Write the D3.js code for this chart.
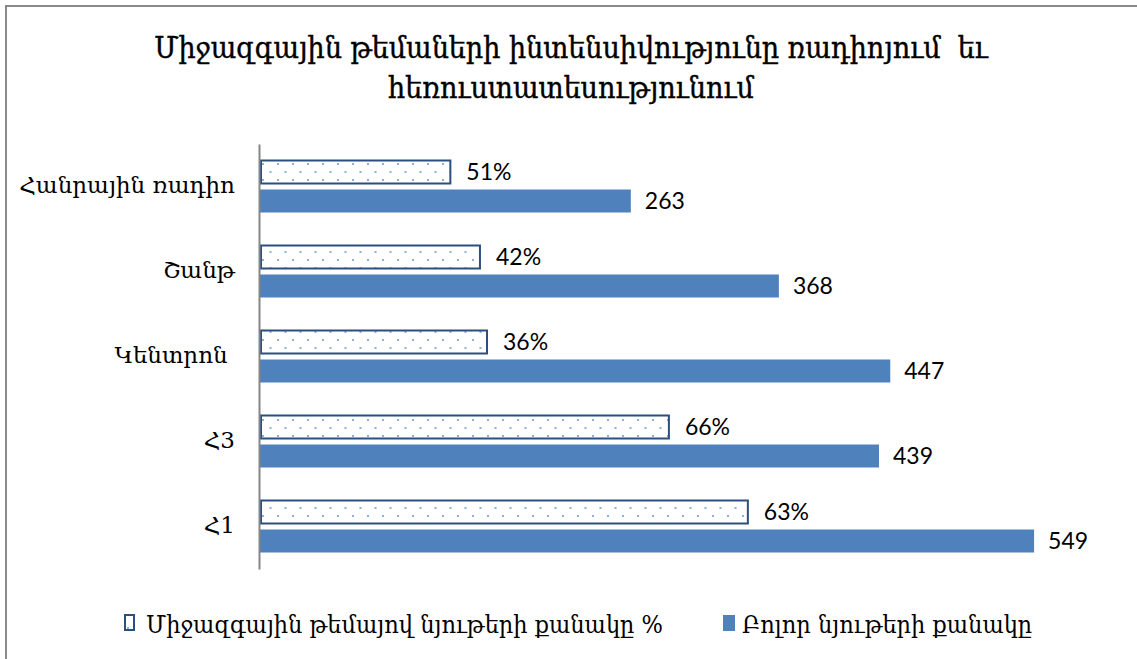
<!DOCTYPE html>
<html><head><meta charset="utf-8">
<script src="https://cdn.jsdelivr.net/npm/d3@7"></script>
<style>body{margin:0;background:#fff} text{white-space:pre}</style>
</head><body><svg id="c" width="1137" height="659"></svg>
<script>
const categories = ["Հանրային ռադիո", "Շանթ", "Կենտրոն ", "Հ3", "Հ1"];
const totalCounts = [263, 368, 447, 439, 549];
const intlCounts = [135, 156, 161, 290, 346];
const intlPctLabels = ["51%", "42%", "36%", "66%", "63%"];
const seriesNames = ["Միջազգային թեմայով նյութերի քանակը %", "Բոլոր նյութերի քանակը"];
const titleLines = ["Միջազգային թեմաների ինտենսիվությունը ռադիոյում  եւ", "հեռուստատեսությունում"];

const W = 1137, H = 659;
const armSerif = "'DejaVu Serif Condensed', 'DejaVu Serif', serif";
const numFont = "Lato, 'Open Sans', sans-serif";
const blue = "#4F81BD", darkBlue = "#2B4F7E";

const svg = d3.select("#c");
svg.append("rect").attr("width", W).attr("height", H).attr("fill", "#fff");

// pattern
const defs = svg.append("defs");
const pat = defs.append("pattern").attr("id", "dots").attr("patternUnits", "userSpaceOnUse")
  .attr("width", 15).attr("height", 16).attr("x", 262).attr("y", 163);
pat.append("rect").attr("width", 15).attr("height", 16).attr("fill", "#fff");
pat.append("rect").attr("x", 0).attr("y", 0).attr("width", 2).attr("height", 2).attr("fill", "#8FB0DC");
pat.append("rect").attr("x", 7.5).attr("y", 8).attr("width", 2).attr("height", 2).attr("fill", "#8FB0DC");

// outer border (left + top)
svg.append("path").attr("d", `M6,${H} L6,6 L${W},6`).attr("fill", "none")
  .attr("stroke", "#8a8a8a").attr("stroke-width", 2);

// title
svg.append("g").selectAll("text").data(titleLines).join("text")
  .attr("x", 571).attr("y", (d, i) => 58 + i * 40)
  .attr("text-anchor", "middle")
  .attr("font-family", armSerif).attr("font-stretch", "condensed")
  .attr("font-size", 30).attr("fill", "#000").attr("stroke", "#000").attr("stroke-width", 0.4)
  .text(d => d);

const x = d3.scaleLinear().domain([0, 600]).range([260, 1106]);
const y = d3.scaleBand().domain(categories).range([144, 569]);
const inner = d3.scaleBand().domain([0, 1]).range([0, y.bandwidth()])
  .paddingInner(0.207).paddingOuter(0.569);

const rows = categories.map((c, i) => ({c, total: totalCounts[i], intl: intlCounts[i], pct: intlPctLabels[i]}));

const g = svg.append("g");
// intl bars (patterned)
g.selectAll(".pbar").data(rows).join("rect").attr("class", "pbar")
  .attr("x", x(0) + 1).attr("y", d => y(d.c) + inner(0))
  .attr("width", d => x(d.intl) - x(0) - 1).attr("height", inner.bandwidth())
  .attr("fill", "url(#dots)").attr("stroke", darkBlue).attr("stroke-width", 2);
// total bars
g.selectAll(".tbar").data(rows).join("rect").attr("class", "tbar")
  .attr("x", x(0)).attr("y", d => y(d.c) + inner(1))
  .attr("width", d => x(d.total) - x(0)).attr("height", inner.bandwidth())
  .attr("fill", blue);

// labels
g.selectAll(".plab").data(rows).join("text").attr("class", "plab")
  .attr("x", d => x(d.intl) + 16).attr("y", d => y(d.c) + inner(0) + inner.bandwidth() / 2)
  .attr("dy", "0.36em").attr("font-family", numFont).attr("font-size", 23).attr("fill", "#000")
  .text(d => d.pct);
g.selectAll(".tlab").data(rows).join("text").attr("class", "tlab")
  .attr("x", d => x(d.total) + 14).attr("y", d => y(d.c) + inner(1) + inner.bandwidth() / 2)
  .attr("dy", "0.36em").attr("font-family", numFont).attr("font-size", 23).attr("fill", "#000")
  .text(d => d.total);

// axis
const ax = svg.append("g").attr("transform", "translate(259,0)")
  .call(d3.axisLeft(y).tickSize(0).tickPadding(24));
ax.select(".domain").attr("stroke", "#868686").attr("stroke-width", 2);
ax.selectAll("text").attr("font-family", "'DejaVu Serif', serif").attr("font-size", 23)
  .attr("fill", "#000").attr("dy", "0.3em");

// legend
const lg = svg.append("g");
lg.append("rect").attr("x", 125).attr("y", 615).attr("width", 9).attr("height", 15)
  .attr("fill", "url(#dots)").attr("stroke", darkBlue).attr("stroke-width", 2);
lg.append("rect").attr("x", 723).attr("y", 615).attr("width", 12).attr("height", 16).attr("fill", blue);
lg.selectAll("text").data(seriesNames).join("text")
  .attr("x", (d, i) => i === 0 ? 146 : 742).attr("y", 624).attr("dy", "0.35em")
  .attr("font-family", armSerif).attr("font-stretch", "condensed")
  .attr("font-size", 25).attr("fill", "#000").text(d => d);
</script></body></html>
